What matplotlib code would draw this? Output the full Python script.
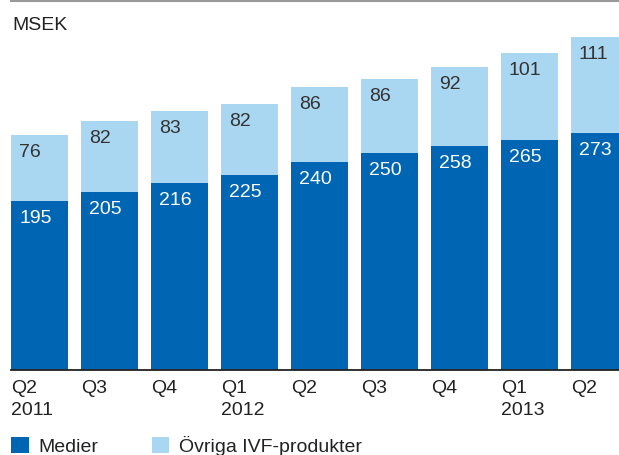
import numpy as np
import matplotlib
matplotlib.use("Agg")
import matplotlib.pyplot as plt

plt.rcParams['font.family'] = ['Liberation Sans', 'DejaVu Sans']

quarters = ["Q2\n2011", "Q3", "Q4", "Q1\n2012", "Q2", "Q3", "Q4", "Q1\n2013", "Q2"]
medier = [195, 205, 216, 225, 240, 250, 258, 265, 273]
ovriga = [76, 82, 83, 82, 86, 86, 92, 101, 111]

dark = "#0066b3"
light = "#a9d6f1"
W, H = 619, 455
fs = 14

fig = plt.figure(figsize=(W / 100, H / 100), dpi=100)
# axes spans from x=11px to the right edge, y from baseline (370px) to the top line (1px)
ax = fig.add_axes([11 / W, 1 - 370 / H, 1 - 11 / W, (370 - 1) / H])

x = np.arange(len(quarters))
bw = 57 / 70
b1 = ax.bar(x, medier, width=bw, color=dark, label="Medier")
b2 = ax.bar(x, ovriga, width=bw, bottom=medier, color=light, label="Övriga IVF-produkter")

ax.set_xlim(-bw / 2, -bw / 2 + 608 / 70)
ax.set_ylim(0, 369 / 0.867)

# value labels in the upper left corner of each segment
for i in range(len(x)):
    ax.annotate(str(medier[i]), (x[i] - bw / 2, medier[i]), xytext=(8 * 0.72, -22 * 0.72),
                textcoords="offset points", color="white", fontsize=fs, va="baseline", ha="left")
    ax.annotate(str(ovriga[i]), (x[i] - bw / 2, medier[i] + ovriga[i]), xytext=(8 * 0.72, -22 * 0.72),
                textcoords="offset points", color="#333333", fontsize=fs, va="baseline", ha="left")

for s in ["left", "right"]:
    ax.spines[s].set_visible(False)
ax.spines["bottom"].set_color("#222222")
ax.spines["bottom"].set_linewidth(1.3)
ax.spines["top"].set_color("#999999")
ax.spines["top"].set_linewidth(1.5)

ax.set_yticks([])
ax.set_xticks(x - bw / 2)
ax.set_xticklabels(quarters, ha="left", fontsize=fs, color="#222222", linespacing=1.38)
ax.tick_params(axis="x", length=0, pad=7)

fig.text(12 / W, 1 - 30 / H, "MSEK", fontsize=fs, color="#222222", va="baseline", ha="left")

fig.legend(handles=[b1, b2], loc="lower left", bbox_to_anchor=(11 / W, -1 / H), ncol=2,
           frameon=False, fontsize=fs, borderpad=0, borderaxespad=0,
           handlelength=0.9, handleheight=0.9, handletextpad=0.5, columnspacing=2.75,
           labelcolor="#222222")

fig.savefig("out.png", dpi=100)
